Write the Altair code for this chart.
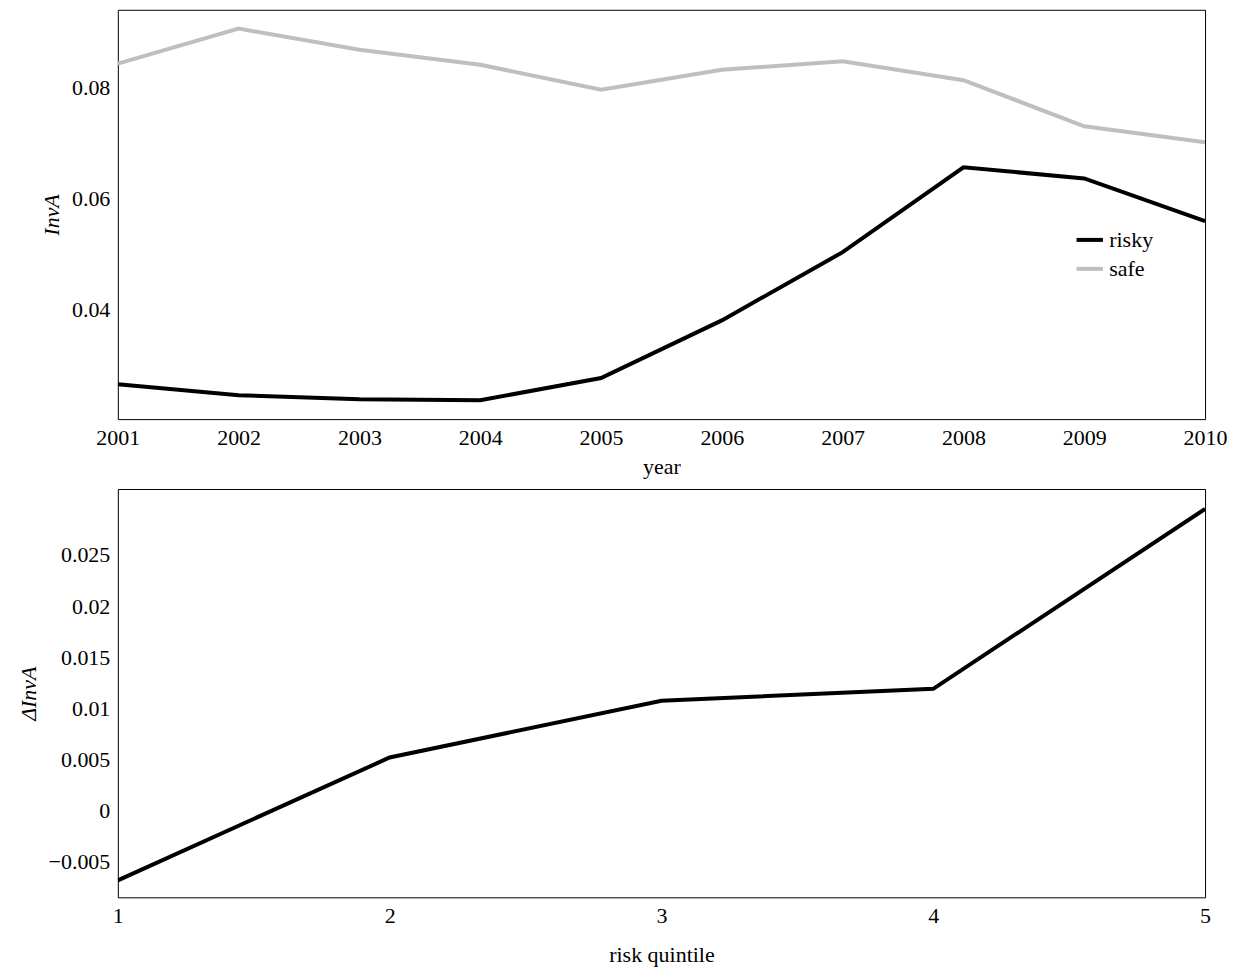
import altair as alt
import pandas as pd

years = [2001, 2002, 2003, 2004, 2005, 2006, 2007, 2008, 2009, 2010]
risky = [0.0265, 0.0245, 0.0238, 0.0236, 0.0276, 0.0380, 0.0503, 0.0656, 0.0636, 0.0559]
safe = [0.0843, 0.0906, 0.0868, 0.0841, 0.0796, 0.0832, 0.0847, 0.0813, 0.0730, 0.0701]
quintiles = [1, 2, 3, 4, 5]
delta = [-0.00684, 0.00518, 0.01074, 0.0119, 0.0295]

FONT = "Liberation Serif"
df1 = pd.DataFrame({"year": years * 2, "v": risky + safe,
                    "s": ["risky"] * 10 + ["safe"] * 10})
df2 = pd.DataFrame({"q": quintiles, "d": delta})

W, H = 1089, 410
top = alt.Chart(df1).mark_line(strokeWidth=4, clip=True).encode(
    x=alt.X("year:Q", scale=alt.Scale(domain=[2001, 2010], nice=False, zero=False),
            axis=alt.Axis(values=years, format="d", title="year", grid=False)),
    y=alt.Y("v:Q", scale=alt.Scale(domain=[0.0202, 0.094], nice=False, zero=False),
            axis=alt.Axis(values=[0.04, 0.06, 0.08], format=".2f", title="InvA",
                          grid=False, titleFontStyle="italic")),
    color=alt.Color("s:N", scale=alt.Scale(domain=["risky", "safe"], range=["#000000", "#bfbfbf"]),
                    legend=alt.Legend(title=None, orient="none", legendX=952, legendY=209,
                                      symbolType="stroke", symbolStrokeWidth=4, symbolSize=700,
                                      labelFontSize=22, labelFont=FONT, padding=6, rowPadding=2)),
).properties(width=W, height=H)

bottom = alt.Chart(df2).mark_line(strokeWidth=4, color="black", clip=True).encode(
    x=alt.X("q:Q", scale=alt.Scale(domain=[1, 5], nice=False, zero=False),
            axis=alt.Axis(values=quintiles, format="d", title="risk quintile", grid=False,
                          titlePadding=18)),
    y=alt.Y("d:Q", scale=alt.Scale(domain=[-0.0085, 0.03145], nice=False, zero=False),
            axis=alt.Axis(values=[-0.005, 0, 0.005, 0.01, 0.015, 0.02, 0.025], format="~g",
                          title="ΔInvA", grid=False, titleFontStyle="italic")),
).properties(width=W, height=H - 1)

chart = alt.vconcat(top, bottom, spacing=10).configure_view(
    stroke="black", strokeWidth=1
).configure_axis(
    labelFont=FONT, titleFont=FONT, labelFontSize=22, titleFontSize=22,
    labelColor="black", titleColor="black", domain=False, ticks=False, labelFlush=False,
    titleFontWeight="normal", labelPadding=8, titlePadding=8
).properties(padding={"left": 8, "top": 0, "right": 10, "bottom": 0})

chart.save("out.html", embed_options={"renderer": "svg", "actions": False})
